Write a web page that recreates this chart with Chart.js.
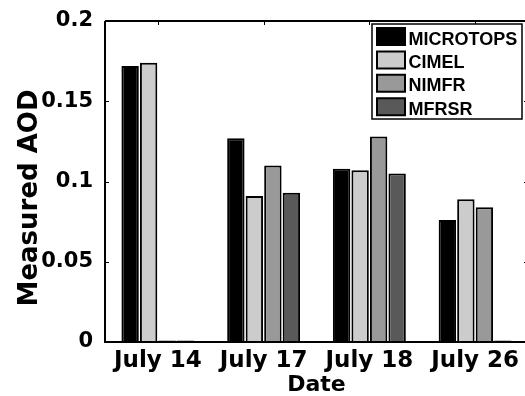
<!DOCTYPE html>
<html><head><meta charset="utf-8">
<script src="https://cdn.jsdelivr.net/npm/chart.js@4/dist/chart.umd.min.js"></script>
<style>
html,body{margin:0;padding:0;overflow:hidden;background:#fff;width:525px;height:396px}
#wrap{width:531px;height:396px;position:relative}
canvas{display:block}
</style></head><body><div id="wrap"><canvas id="c" width="531" height="396"></canvas></div>
<script>
const categories = ['July 14', 'July 17', 'July 18', 'July 26'];
const seriesNames = ['MICROTOPS', 'CIMEL', 'NIMFR', 'MFRSR'];
const microtops = [0.172, 0.127, 0.108, 0.076];
const cimel     = [0.174, 0.091, 0.107, 0.089];
const nimfr     = [0.001, 0.110, 0.128, 0.084];
const mfrsr     = [0.001, 0.093, 0.105, 0.001];
const yTicks = [0, 0.05, 0.1, 0.15, 0.2];
const yTickLabels = ['0', '0.05', '0.1', '0.15', '0.2'];
const seriesColors = ['#000000', '#cccccc', '#999999', '#595959'];
const xTitle = 'Date';
const yTitle = 'Measured AOD';

const F = 'DejaVu Sans';
const seriesValues = [microtops, cimel, nimfr, mfrsr];

const framePlugin = {
  id: 'frame',
  afterDatasetsDraw(chart) {
    const {ctx, chartArea: a, scales} = chart;
    const ys = scales.y, xs = scales.x;
    ctx.save();
    ctx.strokeStyle = '#000';
    ctx.lineWidth = 2;
    ctx.beginPath();
    ctx.moveTo(a.left, a.top); ctx.lineTo(a.right, a.top);
    ctx.moveTo(a.left, a.top); ctx.lineTo(a.left, a.bottom);
    ctx.moveTo(a.left - 1, a.bottom); ctx.lineTo(a.right, a.bottom);
    ctx.moveTo(a.right, a.top); ctx.lineTo(a.right, a.bottom);
    ctx.stroke();
    ctx.lineWidth = 1;
    ctx.beginPath();
    yTicks.forEach(v => {
      if (v === 0 || v === 0.2) return;
      const py = Math.round(ys.getPixelForValue(v)) + 0.5;
      ctx.moveTo(a.left, py); ctx.lineTo(a.left + 4, py);
      ctx.moveTo(a.right, py); ctx.lineTo(a.right - 4, py);
    });
    categories.forEach((c, i) => {
      const px = Math.round(xs.getPixelForValue(i)) + 0.5;
      ctx.moveTo(px, a.top); ctx.lineTo(px, a.top + 4);
    });
    ctx.stroke();

    // y axis title
    ctx.fillStyle = '#000';
    ctx.font = 'bold 26px "' + F + '"';
    ctx.textAlign = 'center';
    ctx.textBaseline = 'alphabetic';
    ctx.translate(37, 198);
    ctx.rotate(-Math.PI / 2);
    ctx.fillText(yTitle, 0, 0);
    ctx.restore();

    // legend
    ctx.save();
    const lx = 372, ly = 24, lw = 150, lh = 95;
    ctx.fillStyle = '#fff';
    ctx.fillRect(lx, ly, lw, lh);
    ctx.strokeStyle = '#000';
    ctx.lineWidth = 1.5;
    ctx.strokeRect(lx, ly, lw, lh);
    ctx.font = 'bold 18px "Liberation Sans"';
    ctx.textAlign = 'left';
    ctx.textBaseline = 'alphabetic';
    chart.data.datasets.forEach((ds, i) => {
      const top = 28 + i * 23.4;
      ctx.fillStyle = ds.backgroundColor;
      ctx.lineWidth = 2;
      ctx.beginPath();
      ctx.rect(377, top, 28, 17);
      ctx.fill();
      ctx.stroke();
      ctx.fillStyle = '#000';
      ctx.fillText(ds.label, 408.5, top + 16.5);
    });
    ctx.restore();
  }
};

new Chart(document.getElementById('c'), {
  type: 'bar',
  data: {
    labels: categories,
    datasets: seriesNames.map((n, i) => ({
      label: n,
      data: seriesValues[i],
      backgroundColor: seriesColors[i],
      borderColor: '#000',
      borderWidth: 2,
      barPercentage: 0.94,
      categoryPercentage: 0.70
    }))
  },
  options: {
    responsive: false,
    animation: false,
    devicePixelRatio: 1,
    layout: {padding: {top: 21, left: 0, right: 3, bottom: 0}},
    plugins: {legend: {display: false}, tooltip: {enabled: false}},
    scales: {
      x: {
        grid: {display: false},
        border: {display: false},
        ticks: {color: '#000', font: {family: F, size: 23, weight: 'bold', lineHeight: 1}, padding: 0, maxRotation: 0, autoSkip: false},
        title: {display: true, text: xTitle, color: '#000', font: {family: F, size: 22, weight: 'bold', lineHeight: 1}, padding: 0},
        afterFit: s => { s.height = 54; }
      },
      y: {
        min: 0, max: 0.2,
        grid: {display: false},
        border: {display: false},
        afterBuildTicks: s => { s.ticks = yTicks.map(v => ({value: v})); },
        ticks: {
          color: '#000', font: {family: F, size: 21, weight: 'bold'}, padding: 4,
          callback: v => yTickLabels[yTicks.indexOf(v)]
        },
        afterFit: s => { s.width = 105; }
      }
    }
  },
  plugins: [framePlugin]
});
</script></body></html>
